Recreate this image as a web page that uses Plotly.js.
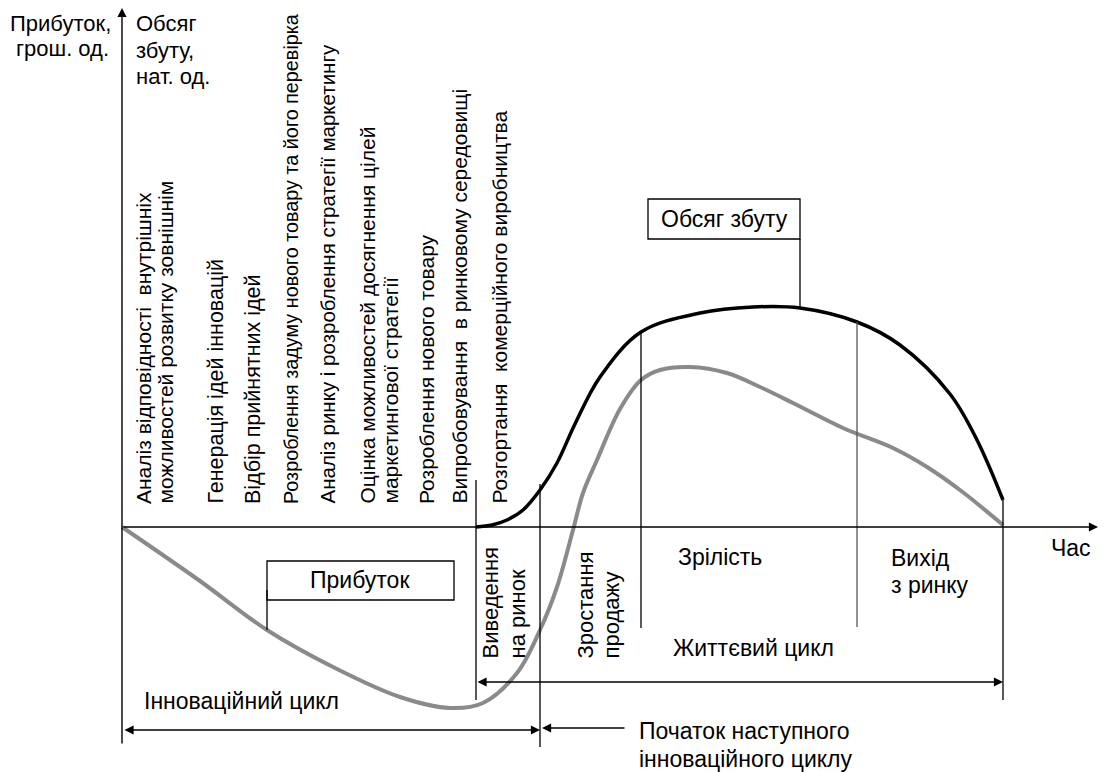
<!DOCTYPE html>
<html>
<head>
<meta charset="utf-8">
<script src="https://cdn.plot.ly/plotly-3.0.1.min.js"></script>
<style>html,body{margin:0;padding:0;background:#fff;}#chart{width:1106px;height:772px;}</style>
</head>
<body>
<div id="chart"></div>
<script>
// ---- data (time on horizontal scale, value on vertical scale of the schematic) ----
const salesTime  = [476, 492, 507, 523, 540, 557, 575, 600, 641, 700, 753, 800, 857, 900, 950, 977, 1003];
const salesValue = [527, 525, 520, 510, 490, 463, 424, 377, 332, 313, 307, 308, 322, 345, 394, 440, 500];

const profitTime  = [122, 200, 267, 333, 400, 450, 483, 517, 540, 557, 573, 583, 597, 620, 641, 660, 690, 727, 760, 793, 843, 893, 927, 960, 1003];
const profitValue = [527, 581, 630, 667, 697, 708, 703, 673, 630, 587, 530, 493, 460, 409, 380, 370, 367, 373, 387, 403, 428, 448, 467, 490, 525];

// phase boundaries on the time scale
const phaseBounds = [476, 540, 641, 857, 1003];

const innovationStages = [
  "Аналіз відповідності\u00a0 внутрішніх",
  "можливостей розвитку зовнішнім",
  "Генерація ідей інновацій",
  "Відбір прийнятних ідей",
  "Розроблення задуму нового товару та його перевірка",
  "Аналіз ринку і розроблення стратегії маркетингу",
  "Оцінка можливостей досягнення цілей",
  "маркетингової стратегії",
  "Розроблення нового товару",
  "Випробовування\u00a0 в ринковому середовищі",
  "Розгортання\u00a0 комерційного виробництва"
];
const stageX = [143, 165, 215, 253, 291, 327, 367, 390, 426, 459, 499];
const stageFontSize = [21, 21, 21.5, 21.5, 19.8, 20.5, 21, 21, 21, 21, 21];

const lifePhases = ["Виведення", "на ринок", "Зростання", "продажу"];
const lifePhaseX = [490, 517, 585, 611];

// ---- drawing ----
const FONT = "Liberation Sans, Arial, Helvetica, sans-serif";
const FS = 23;
const traces = [
  {x: profitTime, y: profitValue, mode: "lines", line: {color: "#8a8a8a", width: 4, shape: "spline", smoothing: 1}, hoverinfo: "skip"},
  {x: salesTime, y: salesValue, mode: "lines", line: {color: "#000", width: 3.5, shape: "spline", smoothing: 1}, hoverinfo: "skip"}
];

const shapes = [];
function ln(x0, y0, x1, y1, color, w) {
  shapes.push({type: "line", xref: "x", yref: "y", x0, y0, x1, y1, line: {color: color || "#000", width: w || 1.3}});
}
// phase dividers
ln(phaseBounds[0], 480, phaseBounds[0], 700);
ln(phaseBounds[1], 484, phaseBounds[1], 747);
ln(phaseBounds[2], 332, phaseBounds[2], 628);
ln(phaseBounds[3], 322, phaseBounds[3], 627, "#555");
ln(phaseBounds[4], 500, phaseBounds[4], 700);
// boxes
shapes.push({type: "rect", x0: 648, x1: 800, y0: 199, y1: 239, line: {color: "#000", width: 1.3}, fillcolor: "#fff"});
shapes.push({type: "rect", x0: 267, x1: 454, y0: 561, y1: 600, line: {color: "#000", width: 1.3}, fillcolor: "#fff"});
ln(800, 239, 800, 308);
ln(267, 590, 267, 630);

const ann = [];
function txt(text, x, y, xa, ya, angle, size) {
  ann.push({text, x, y, xref: "x", yref: "y", xanchor: xa || "center", yanchor: ya || "middle",
    showarrow: false, textangle: angle || 0, font: {family: FONT, size: size || FS, color: "#000"}});
}
function arrow(x0, y0, x1, y1, side) {
  ann.push({text: "", x: x1, y: y1, ax: x0, ay: y0, xref: "x", yref: "y", axref: "x", ayref: "y",
    showarrow: true, arrowhead: 2, arrowsize: 1.3, arrowwidth: 1.4, arrowcolor: "#000",
    arrowside: side || "end", standoff: 0, startstandoff: 0});
}
// axes
arrow(122, 745, 122, 8);
arrow(122, 527, 1098, 527);
// cycle arrows
arrow(phaseBounds[0], 682, phaseBounds[4], 682, "end+start");
arrow(123, 730, phaseBounds[1], 730, "end+start");
arrow(626, 728, 542, 728);

// axis captions
txt("Прибуток,", 113, 23, "right", "middle", 0, 22);
txt("грош. од.", 111, 48, "right", "middle", 0, 22);
txt("Обсяг", 134, 23, "left", "middle", 0, 22);
txt("збуту,", 134, 50, "left", "middle", 0, 22);
txt("нат. од.", 134, 76, "left", "middle", 0, 22);
txt("Час", 1049, 548, "left");

// innovation stage labels (vertical)
innovationStages.forEach((s, i) => txt(s, stageX[i], 506, "center", "bottom", -90, stageFontSize[i]));
lifePhases.forEach((s, i) => txt(s, lifePhaseX[i], 661, "center", "bottom", -90, 22));

txt("Зрілість", 720, 557);
txt("Вихід", 889, 558, "left");
txt("з ринку", 889, 585, "left");
txt("Життєвий цикл", 753, 648);
txt("Інноваційний цикл", 142, 701, "left");
txt("Початок наступного", 637, 731, "left");
txt("інноваційного циклу", 637, 759, "left");
txt("Обсяг збуту", 724, 219);
txt("Прибуток", 360, 580);

const layout = {
  width: 1106, height: 772,
  margin: {l: 0, r: 0, t: 0, b: 0},
  paper_bgcolor: "#fff", plot_bgcolor: "#fff",
  showlegend: false,
  xaxis: {range: [0, 1106], visible: false, fixedrange: true},
  yaxis: {range: [772, 0], visible: false, fixedrange: true},
  shapes, annotations: ann
};
Plotly.newPlot("chart", traces, layout, {staticPlot: true, displayModeBar: false});
</script>
</body>
</html>
